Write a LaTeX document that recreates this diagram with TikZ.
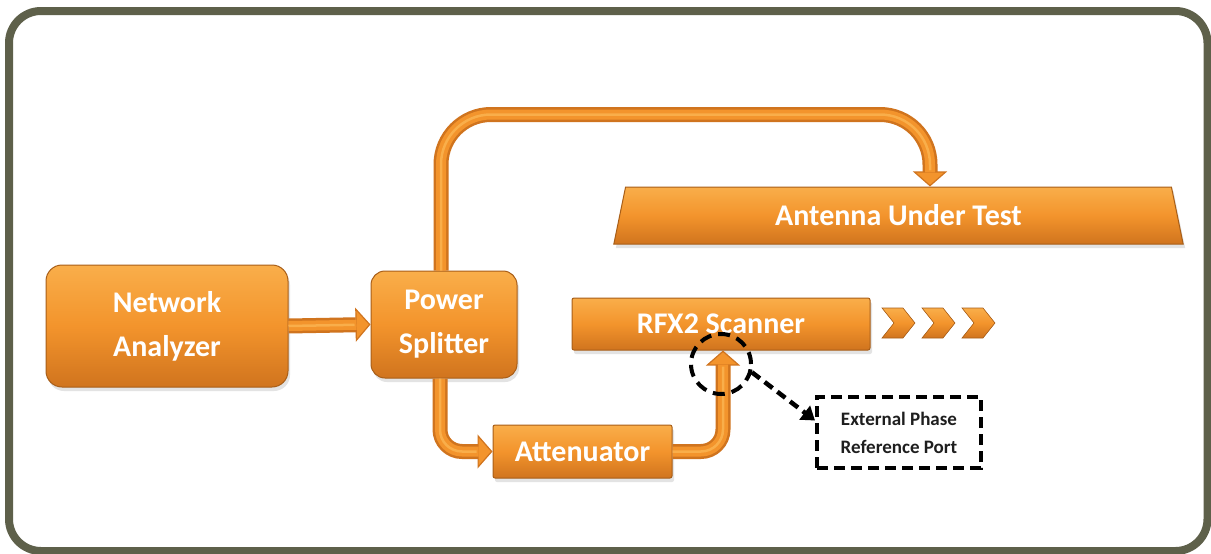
\documentclass[tikz,border=0pt]{standalone}
\usepackage{fontspec}
\setmainfont{Carlito}
\usetikzlibrary{arrows.meta,shapes.geometric,shadows}
\definecolor{frame}{RGB}{94,96,74}
\definecolor{orM}{RGB}{243,148,44}
\definecolor{orL}{RGB}{249,174,74}
\definecolor{orD}{RGB}{208,116,30}
\definecolor{orE}{RGB}{168,94,24}
\definecolor{txtd}{RGB}{30,30,30}
\begin{document}
\begin{tikzpicture}[x=1pt,y=-1pt,
  box/.style={draw=orE, line width=1pt, top color=orL, bottom color=orD, middle color=orM,
    text=white, font=\fontsize{30}{44}\selectfont\bfseries, align=center, inner sep=0pt,
    drop shadow={opacity=0.22, shadow xshift=2pt, shadow yshift=-4pt}},
  conn/.style={line width=15pt, draw=orD, line join=round,
    -{Triangle[length=15pt,width=34pt,fill=orM,line width=1.2pt]},
    postaction={draw=orM, line width=10pt, -, shorten >=14pt},
    postaction={draw=orL, line width=2.5pt, -, shorten >=16pt}},
  dashy/.style={draw=black, line width=4pt, dash pattern=on 11pt off 6pt}
]
\useasboundingbox (0,0) rectangle (1211,554);
\fill[white] (0,0) rectangle (1211,554);
% frame
\draw[frame, line width=8pt, rounded corners=32pt] (9,11) rectangle (1207.5,551);

% nodes
\node[box, rounded corners=16pt, minimum width=242pt, minimum height=122pt] (NA) at (167,326) {Network\\Analyzer};
\node[box, rounded corners=14pt, minimum width=146pt, minimum height=107pt] (PS) at (444,324.5) {Power\\Splitter};
\node[box, rounded corners=2pt, minimum width=179pt, minimum height=53pt] (ATT) at (582.5,451.5) {Attenuator};
\node[box, rounded corners=2pt, minimum width=298pt, minimum height=52pt] (RFX) at (721,324) {RFX2 Scanner};
\node[box, trapezium, trapezium left angle=76, trapezium right angle=76, trapezium stretches=true,
  minimum width=571pt, minimum height=57pt] (AUT) at (898.5,215.5) {Antenna Under Test};

% connectors
\draw[conn] (NA.east) -- (PS.west);
\draw[conn, rounded corners=50pt] ([xshift=-3pt]PS.north) -- (441,114.5) -- (930,114.5) -- (930,0 |- AUT.north);
\draw[conn, rounded corners=22pt] ([xshift=-4pt]PS.south) -- (440,451.5) -- (ATT.west);
\draw[conn, rounded corners=22pt] (ATT.east) -- (723,451.5) -- (723,0 |- RFX.south);

% chevrons
\foreach \x in {882,922,962}
  \shade[top color=orL, bottom color=orD, middle color=orM, draw=orE, line width=0.6pt]
    (\x,308) -- ++(21,0) -- ++(12,15) -- ++(-12,15) -- ++(-21,0) -- ++(12,-15) -- cycle;

% reference port
\node[dashy, circle, minimum size=60pt, inner sep=0pt, dash pattern=on 12pt off 7pt] (circ) at (721,364) {};
\node[dashy, minimum width=164pt, minimum height=71pt, inner sep=0pt, text=txtd,
  font=\fontsize{19}{28}\selectfont\bfseries, align=center] (port) at (899,432.5) {External Phase\\Reference Port};
\draw[line width=4.5pt, dash pattern=on 10pt off 6pt, -{Triangle[length=13pt,width=17pt]}]
  (circ.-15) -- ([yshift=12pt]port.west);
\end{tikzpicture}
\end{document}
